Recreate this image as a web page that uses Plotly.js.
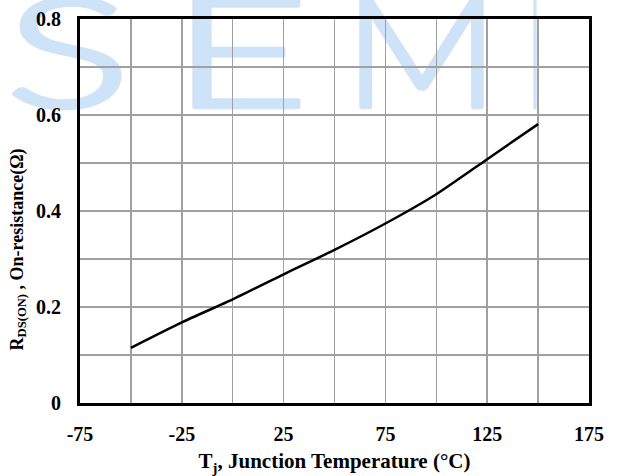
<!DOCTYPE html>
<html>
<head>
<meta charset="utf-8">
<script src="https://cdn.plot.ly/plotly-3.0.1.min.js"></script>
<style>
  html, body { margin: 0; padding: 0; background: #ffffff; }
  #wrap { position: relative; width: 617px; height: 476px; overflow: hidden; }
  #wm { position: absolute; left: 0; top: 0; z-index: 0; }
  #chart { position: absolute; left: 0; top: 0; width: 617px; height: 476px; z-index: 1; }
</style>
</head>
<body>
<div id="wrap">
  <svg id="wm" width="617" height="476">
    <g fill="#cfe3f8" stroke="#cfe3f8" stroke-width="4.5" stroke-linejoin="round" stroke-linecap="round" font-family="Lato, 'Open Sans', sans-serif" font-weight="300" font-size="152">
      <text x="5" y="107" textLength="126" lengthAdjust="spacingAndGlyphs">S</text>
      <text x="171" y="107" textLength="138" lengthAdjust="spacingAndGlyphs">E</text>
      <text x="344" y="107" textLength="155" lengthAdjust="spacingAndGlyphs">M</text>
      <text x="530" y="107" textLength="10" lengthAdjust="spacingAndGlyphs">I</text>
    </g>
  </svg>
  <div id="chart"></div>
</div>
<script>
// Junction temperature (°C)
const tempC = [-50, -25, 0, 25, 50, 75, 100, 125, 150];
// On-resistance (Ω)
const rdsOn = [0.115, 0.168, 0.216, 0.268, 0.319, 0.374, 0.435, 0.508, 0.581];

const xTickVals = [-75, -25, 25, 75, 125, 175];
const xTickText = ['-75', '-25', '25', '75', '125', '175'];
const yTickVals = [0, 0.2, 0.4, 0.6, 0.8];
const yTickText = ['0', '0.2', '0.4', '0.6', '0.8'];

const serif = "'Liberation Serif', 'Times New Roman', serif";

const trace = {
  x: tempC,
  y: rdsOn,
  type: 'scatter',
  mode: 'lines',
  line: { color: '#000000', width: 2.5, shape: 'spline', smoothing: 0.6 },
  hoverinfo: 'skip',
  showlegend: false
};

const layout = {
  width: 617,
  height: 476,
  margin: { l: 80, r: 28, t: 19, b: 73 },
  paper_bgcolor: 'rgba(0,0,0,0)',
  plot_bgcolor: 'rgba(0,0,0,0)',
  font: { family: serif, color: '#000000', size: 20, weight: 'bold' },
  xaxis: {
    range: [-75, 175],
    tickvals: xTickVals,
    ticktext: xTickText,
    ticks: '',
    ticklabelstandoff: 11,
    showgrid: true,
    gridcolor: '#a0a0a0',
    gridwidth: 1.5,
    minor: { dtick: 25, tick0: -75, showgrid: true, gridcolor: '#a0a0a0', gridwidth: 1.5 },
    showline: true,
    linecolor: '#000000',
    linewidth: 3,
    mirror: true,
    zeroline: false,
    tickfont: { family: serif, size: 20, weight: 'bold', color: '#000000' },
    title: {
      text: 'T<sub>j</sub>, Junction Temperature (°C)',
      font: { family: serif, size: 21, weight: 'bold', color: '#000000' },
      standoff: 10
    }
  },
  yaxis: {
    range: [0, 0.8],
    tickvals: yTickVals,
    ticktext: yTickText,
    ticks: '',
    ticklabelstandoff: 12,
    showgrid: true,
    gridcolor: '#a0a0a0',
    gridwidth: 1.5,
    minor: { dtick: 0.1, tick0: 0, showgrid: true, gridcolor: '#a0a0a0', gridwidth: 1.5 },
    showline: true,
    linecolor: '#000000',
    linewidth: 3,
    mirror: true,
    zeroline: false,
    tickfont: { family: serif, size: 20, weight: 'bold', color: '#000000' }
  },
  annotations: [{
    text: 'R<sub>DS(ON)</sub> , On-resistance(Ω)',
    xref: 'paper', yref: 'paper',
    x: 0, y: 0.40,
    xanchor: 'center', yanchor: 'middle',
    xshift: -62,
    textangle: -90,
    showarrow: false,
    font: { family: serif, size: 18, weight: 'bold', color: '#000000' }
  }]
};

Plotly.newPlot('chart', [trace], layout, { displayModeBar: false, staticPlot: true });
</script>
</body>
</html>
